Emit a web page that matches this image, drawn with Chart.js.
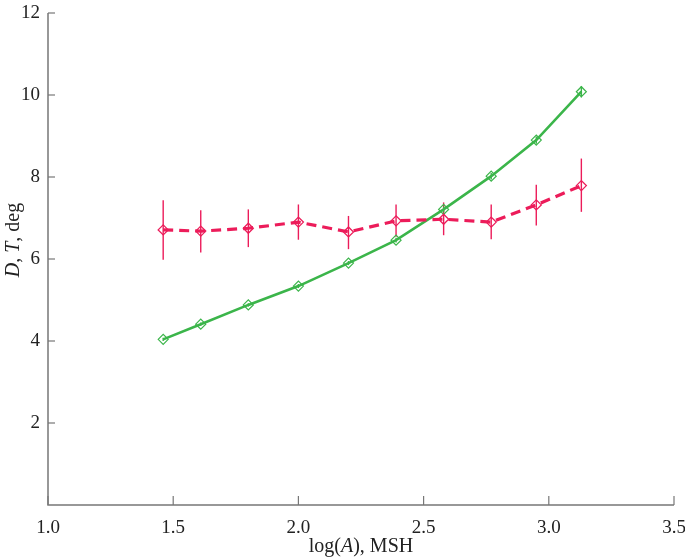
<!DOCTYPE html>
<html>
<head>
<meta charset="utf-8">
<script src="https://cdn.jsdelivr.net/npm/chart.js@4/dist/chart.umd.min.js"></script>
<style>
  html,body{margin:0;padding:0;background:#fff;}
  #wrap{width:685px;height:560px;}
</style>
</head>
<body>
<div id="wrap"><canvas id="c" width="685" height="560"></canvas></div>
<script>
// log(A), MSH
var logA=[1.46,1.61,1.80,2.00,2.20,2.39,2.58,2.77,2.95,3.13];
// D (green, solid) and T (red, dashed), deg
var Dvals=[4.04,4.41,4.88,5.34,5.90,6.46,7.21,8.02,8.90,10.08];
var Derr=[0.04,0.04,0.04,0.05,0.05,0.06,0.07,0.08,0.09,0.14];
var Tvals=[6.71,6.68,6.75,6.90,6.66,6.93,6.97,6.90,7.32,7.79];
var TerrLo=[5.98,6.16,6.29,6.47,6.24,6.54,6.58,6.48,6.82,7.15];
var TerrHi=[7.43,7.19,7.21,7.33,7.05,7.33,7.38,7.33,7.81,8.45];
var xTicks=[1.0,1.5,2.0,2.5,3.0,3.5];
var yTicks=[2,4,6,8,10,12];

var GREEN="#3bb54a", RED="#ec1c5a", AXIS="#777";
var SERIF="'Liberation Serif','DejaVu Serif',serif";

function pts(ys){return logA.map(function(x,i){return {x:x,y:ys[i]};});}

// error bars, inner tick marks and axis titles
var extras={
  id:'extras',
  beforeDatasetsDraw:function(chart){
    var c=chart.ctx, xs=chart.scales.x, ys=chart.scales.y;
    c.save();
    c.lineWidth=1.4;
    c.strokeStyle=RED;
    for(var i=0;i<logA.length;i++){
      var px=xs.getPixelForValue(logA[i]);
      c.beginPath();
      c.moveTo(px,ys.getPixelForValue(TerrLo[i]));
      c.lineTo(px,ys.getPixelForValue(TerrHi[i]));
      c.stroke();
    }
    c.strokeStyle=GREEN;
    for(var j=0;j<logA.length;j++){
      var qx=xs.getPixelForValue(logA[j]);
      c.beginPath();
      c.moveTo(qx,ys.getPixelForValue(Dvals[j]-Derr[j]));
      c.lineTo(qx,ys.getPixelForValue(Dvals[j]+Derr[j]));
      c.stroke();
    }
    c.restore();
  },
  afterDraw:function(chart){
    var c=chart.ctx, xs=chart.scales.x, ys=chart.scales.y, a=chart.chartArea;
    c.save();
    c.strokeStyle=AXIS;
    c.lineWidth=1.5;
    c.beginPath();
    c.moveTo(a.left,a.top);c.lineTo(a.left,a.bottom);c.lineTo(a.right,a.bottom);
    c.stroke();
    c.lineWidth=1.2;
    xTicks.forEach(function(t){
      var px=xs.getPixelForValue(t);
      c.beginPath();c.moveTo(px,a.bottom);c.lineTo(px,a.bottom-9);c.stroke();
    });
    yTicks.forEach(function(t){
      var py=ys.getPixelForValue(t);
      c.beginPath();c.moveTo(a.left,py);c.lineTo(a.left+7,py);c.stroke();
    });
    // x title: log(A), MSH
    c.fillStyle="#222";
    c.textBaseline="middle";
    var parts=[["log(","normal"],["A","italic"],["), MSH","normal"]];
    var total=0;
    parts.forEach(function(p){c.font=p[1]+" 20px "+SERIF;total+=c.measureText(p[0]).width;});
    var x0=(a.left+a.right)/2-total/2;
    c.textAlign="left";
    parts.forEach(function(p){c.font=p[1]+" 20px "+SERIF;c.fillText(p[0],x0,547);x0+=c.measureText(p[0]).width;});
    // y title: D, T, deg
    c.translate(14,240);
    c.rotate(-Math.PI/2);
    var yparts=[["D","italic"],[", ","normal"],["T","italic"],[", deg","normal"]];
    var tot=0;
    yparts.forEach(function(p){c.font=p[1]+" 20px "+SERIF;tot+=c.measureText(p[0]).width;});
    var s=-tot/2;
    yparts.forEach(function(p){c.font=p[1]+" 20px "+SERIF;c.fillText(p[0],s,0);s+=c.measureText(p[0]).width;});
    c.restore();
  }
};

new Chart(document.getElementById("c"),{
  type:'line',
  data:{
    datasets:[{
      label:'T',
      data:pts(Tvals),
      borderColor:RED,
      borderWidth:3.2,
      borderDash:[10,6],
      pointStyle:'rectRot',
      pointRadius:5,
      pointBorderWidth:1.3,
      pointBorderColor:RED,
      pointBackgroundColor:'rgba(255,255,255,0)',
      tension:0
    },{
      label:'D',
      data:pts(Dvals),
      borderColor:GREEN,
      borderWidth:2.6,
      pointStyle:'rectRot',
      pointRadius:5,
      pointBorderWidth:1.2,
      pointBorderColor:GREEN,
      pointBackgroundColor:'rgba(255,255,255,0)',
      tension:0
    }]
  },
  options:{
    responsive:false,
    animation:false,
    layout:{padding:{top:13,right:11,left:0,bottom:0}},
    plugins:{legend:{display:false},tooltip:{enabled:false}},
    scales:{
      x:{
        type:'linear',min:1.0,max:3.5,
        afterBuildTicks:function(s){s.ticks=xTicks.map(function(v){return {value:v};});},
        afterFit:function(s){s.height=55;s.paddingLeft=0;s.paddingRight=0;},
        border:{display:false},
        grid:{display:false,drawTicks:false},
        ticks:{color:"#222",padding:12,maxRotation:0,font:{family:SERIF,size:19},
          callback:function(v){return v.toFixed(1);}}
      },
      y:{
        type:'linear',min:0,max:12,
        afterBuildTicks:function(s){s.ticks=yTicks.map(function(v){return {value:v};});},
        afterFit:function(s){s.width=48;s.paddingTop=0;s.paddingBottom=0;},
        border:{display:false},
        grid:{display:false,drawTicks:false},
        ticks:{color:"#222",padding:8,font:{family:SERIF,size:19},
          callback:function(v){return String(v);}}
      }
    }
  },
  plugins:[extras]
});
</script>
</body>
</html>
